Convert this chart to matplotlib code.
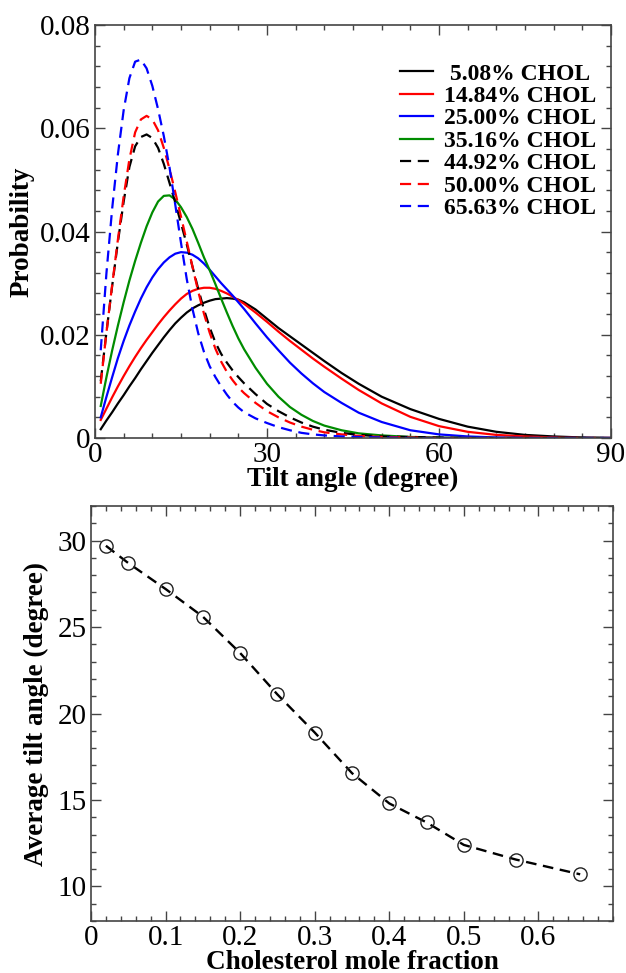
import matplotlib
matplotlib.use("Agg")
import matplotlib.pyplot as plt
from matplotlib.ticker import MultipleLocator, FixedLocator, FixedFormatter

plt.rcParams['font.family'] = ['Liberation Serif', 'DejaVu Serif']

# ---------------- data: tilt angle distributions ----------------
angle = [1, 2, 3, 4, 5, 6, 7, 8, 9, 10, 11, 12, 13, 14, 15, 16, 17, 18, 19, 20,
         21, 22, 23, 24, 25, 26, 28, 30, 32, 34, 36, 38, 40, 43, 46, 50, 55, 60,
         65, 70, 75, 80, 85, 90]

p_5_08 = [0.0017, 0.0034, 0.0050, 0.0067, 0.0083, 0.0100, 0.0116, 0.0133, 0.0149, 0.0165,
          0.0180, 0.0195, 0.0209, 0.0222, 0.0233, 0.0243, 0.0251, 0.0257, 0.0262, 0.0266,
          0.0269, 0.0270, 0.0271, 0.0270, 0.0268, 0.0263, 0.0249, 0.0231, 0.0213, 0.0197,
          0.0181, 0.0165, 0.0149, 0.0126, 0.0105, 0.0080, 0.0056, 0.0037,
          0.0022, 0.0012, 0.0006, 0.0003, 0.0001, 0.0000]

p_14_84 = [0.0035, 0.0057, 0.0079, 0.0100, 0.0120, 0.0139, 0.0157, 0.0174, 0.0190, 0.0205,
           0.0220, 0.0234, 0.0247, 0.0259, 0.0270, 0.0279, 0.0285, 0.0289, 0.0291, 0.0291,
           0.0289, 0.0285, 0.0280, 0.0274, 0.0267, 0.0260, 0.0243, 0.0225, 0.0206, 0.0188,
           0.0171, 0.0154, 0.0138, 0.0115, 0.0093, 0.0067, 0.0041, 0.0023,
           0.0012, 0.0006, 0.0003, 0.0001, 0.0000, 0.0000]

p_25_00 = [0.0040, 0.0080, 0.0118, 0.0155, 0.0188, 0.0218, 0.0245, 0.0270, 0.0292, 0.0311,
           0.0327, 0.0340, 0.0350, 0.0357, 0.0360, 0.0359, 0.0355, 0.0348, 0.0338, 0.0326,
           0.0313, 0.0300, 0.0288, 0.0276, 0.0263, 0.0250, 0.0222, 0.0195, 0.0170, 0.0146,
           0.0125, 0.0106, 0.0089, 0.0068, 0.0049, 0.0031, 0.0015, 0.0007,
           0.0003, 0.0001, 0.0000, 0.0000, 0.0000, 0.0000]

p_35_16 = [0.0062, 0.0118, 0.0170, 0.0218, 0.0263, 0.0305, 0.0343, 0.0378, 0.0410, 0.0437,
           0.0458, 0.0469, 0.0470, 0.0462, 0.0447, 0.0428, 0.0405, 0.0378, 0.0350, 0.0325,
           0.0298, 0.0270, 0.0243, 0.0217, 0.0193, 0.0172, 0.0136, 0.0105, 0.0080, 0.0060,
           0.0045, 0.0033, 0.0024, 0.0015, 0.0009, 0.0005, 0.0002, 0.0001,
           0.0000, 0.0000, 0.0000, 0.0000, 0.0000, 0.0000]

p_44_92 = [0.0110, 0.0205, 0.0295, 0.0380, 0.0458, 0.0525, 0.0565, 0.0583, 0.0588, 0.0581,
           0.0562, 0.0531, 0.0494, 0.0456, 0.0416, 0.0375, 0.0332, 0.0289, 0.0249, 0.0214,
           0.0185, 0.0163, 0.0146, 0.0131, 0.0118, 0.0106, 0.0085, 0.0066, 0.0052, 0.0040,
           0.0030, 0.0022, 0.0016, 0.0010, 0.0006, 0.0003, 0.0002, 0.0001,
           0.0000, 0.0000, 0.0000, 0.0000, 0.0000, 0.0000]

p_50_00 = [0.0105, 0.0205, 0.0297, 0.0385, 0.0468, 0.0540, 0.0592, 0.0617, 0.0624, 0.0617,
           0.0596, 0.0562, 0.0521, 0.0476, 0.0429, 0.0381, 0.0332, 0.0284, 0.0241, 0.0204,
           0.0173, 0.0148, 0.0128, 0.0112, 0.0098, 0.0087, 0.0068, 0.0052, 0.0040, 0.0030,
           0.0022, 0.0016, 0.0011, 0.0007, 0.0004, 0.0002, 0.0001, 0.0000,
           0.0000, 0.0000, 0.0000, 0.0000, 0.0000, 0.0000]

p_65_63 = [0.0170, 0.0320, 0.0445, 0.0550, 0.0635, 0.0697, 0.0729, 0.0733, 0.0716, 0.0682,
           0.0637, 0.0585, 0.0524, 0.0452, 0.0378, 0.0308, 0.0250, 0.0203, 0.0167, 0.0139,
           0.0118, 0.0100, 0.0084, 0.0070, 0.0059, 0.0050, 0.0038, 0.0029, 0.0021, 0.0015,
           0.0010, 0.0007, 0.0005, 0.0003, 0.0002, 0.0001, 0.0000, 0.0000,
           0.0000, 0.0000, 0.0000, 0.0000, 0.0000, 0.0000]

series_labels = [" 5.08% CHOL", "14.84% CHOL", "25.00% CHOL", "35.16% CHOL",
                 "44.92% CHOL", "50.00% CHOL", "65.63% CHOL"]
series_values = [p_5_08, p_14_84, p_25_00, p_35_16, p_44_92, p_50_00, p_65_63]
series_colors = ["black", "#ff0000", "#0000ff", "#008c00", "black", "#ff0000", "#0000ff"]
series_dashed = [False, False, False, False, True, True, True]

top_xticks = [0, 30, 60, 90]
top_xticklabels = ["0", "30", "60", "90"]
top_yticks = [0, 0.02, 0.04, 0.06, 0.08]
top_yticklabels = ["0", "0.02", "0.04", "0.06", "0.08"]

# ---------------- data: average tilt angle ----------------
chol_fraction = [0.02, 0.05, 0.10, 0.15, 0.20, 0.25, 0.30, 0.35, 0.40, 0.45, 0.50, 0.57, 0.656]
avg_tilt = [29.7, 28.7, 27.2, 25.6, 23.5, 21.1, 18.9, 16.55, 14.8, 13.7, 12.4, 11.55, 10.7]

bot_xticks = [0, 0.1, 0.2, 0.3, 0.4, 0.5, 0.6]
bot_xticklabels = ["0", "0.1", "0.2", "0.3", "0.4", "0.5", "0.6"]
bot_yticks = [10, 15, 20, 25, 30]
bot_yticklabels = ["10", "15", "20", "25", "30"]

W, H = 626, 973
fig = plt.figure(figsize=(W / 100, H / 100), dpi=100)

def frac_axes(l, t, r, b):
    return fig.add_axes([l / W, 1 - b / H, (r - l) / W, (b - t) / H])

TICK_FS = 21
LABEL_FS = 19.5

def style_axes(ax):
    for s in ax.spines.values():
        s.set_linewidth(1.2)
        s.set_color("#444444")
    ax.tick_params(which="both", direction="in", top=True, right=True,
                   labelsize=TICK_FS, color="#444444")
    ax.tick_params(which="major", length=7, width=1.0, pad=3)
    ax.tick_params(which="minor", length=3.5, width=1.0)

# ---------------- top panel ----------------
ax1 = frac_axes(95, 25, 611, 438)
for vals, lab, col, dsh in zip(series_values, series_labels, series_colors, series_dashed):
    if dsh:
        ax1.plot(angle, vals, color=col, lw=1.6, dashes=(5, 3), label=lab)
    else:
        ax1.plot(angle, vals, color=col, lw=1.6, label=lab)
ax1.set_xlim(0, 90)
ax1.set_ylim(0, 0.08)
ax1.xaxis.set_major_locator(FixedLocator(top_xticks))
ax1.xaxis.set_major_formatter(FixedFormatter(top_xticklabels))
ax1.yaxis.set_major_locator(FixedLocator(top_yticks))
ax1.yaxis.set_major_formatter(FixedFormatter(top_yticklabels))
ax1.xaxis.set_minor_locator(MultipleLocator(5))
ax1.yaxis.set_minor_locator(MultipleLocator(0.004))
style_axes(ax1)
ax1.set_xlabel("Tilt angle (degree)", fontsize=LABEL_FS, fontweight="bold", labelpad=-1)
ax1.set_ylabel("Probability", fontsize=LABEL_FS, fontweight="bold", labelpad=4)
leg = ax1.legend(loc="upper left", bbox_to_anchor=((400 - 95) / 516, (438 - 63) / 413),
                 frameon=False, prop={"size": 17, "weight": "bold"}, handlelength=1.4,
                 handletextpad=0.45, labelspacing=0.04, borderaxespad=0.0, borderpad=0.0)

# ---------------- bottom panel ----------------
ax2 = frac_axes(91, 506, 613, 921)
ax2.plot(chol_fraction, avg_tilt, color="black", lw=1.7, dashes=(4.5, 2.8),
         marker="o", markersize=9.5, markerfacecolor="none", markeredgecolor="#222222",
         markeredgewidth=1.0)
ax2.set_xlim(0, 0.7)
ax2.set_ylim(8, 32)
ax2.xaxis.set_major_locator(FixedLocator(bot_xticks))
ax2.xaxis.set_major_formatter(FixedFormatter(bot_xticklabels))
ax2.yaxis.set_major_locator(FixedLocator(bot_yticks))
ax2.yaxis.set_major_formatter(FixedFormatter(bot_yticklabels))
ax2.xaxis.set_minor_locator(MultipleLocator(0.02))
ax2.yaxis.set_minor_locator(MultipleLocator(1))
style_axes(ax2)
ax2.set_xlabel("Cholesterol mole fraction", fontsize=LABEL_FS, fontweight="bold", labelpad=-1)
ax2.set_ylabel("Average tilt angle (degree)", fontsize=LABEL_FS, fontweight="bold", labelpad=6)

fig.savefig("out.png", dpi=100)
